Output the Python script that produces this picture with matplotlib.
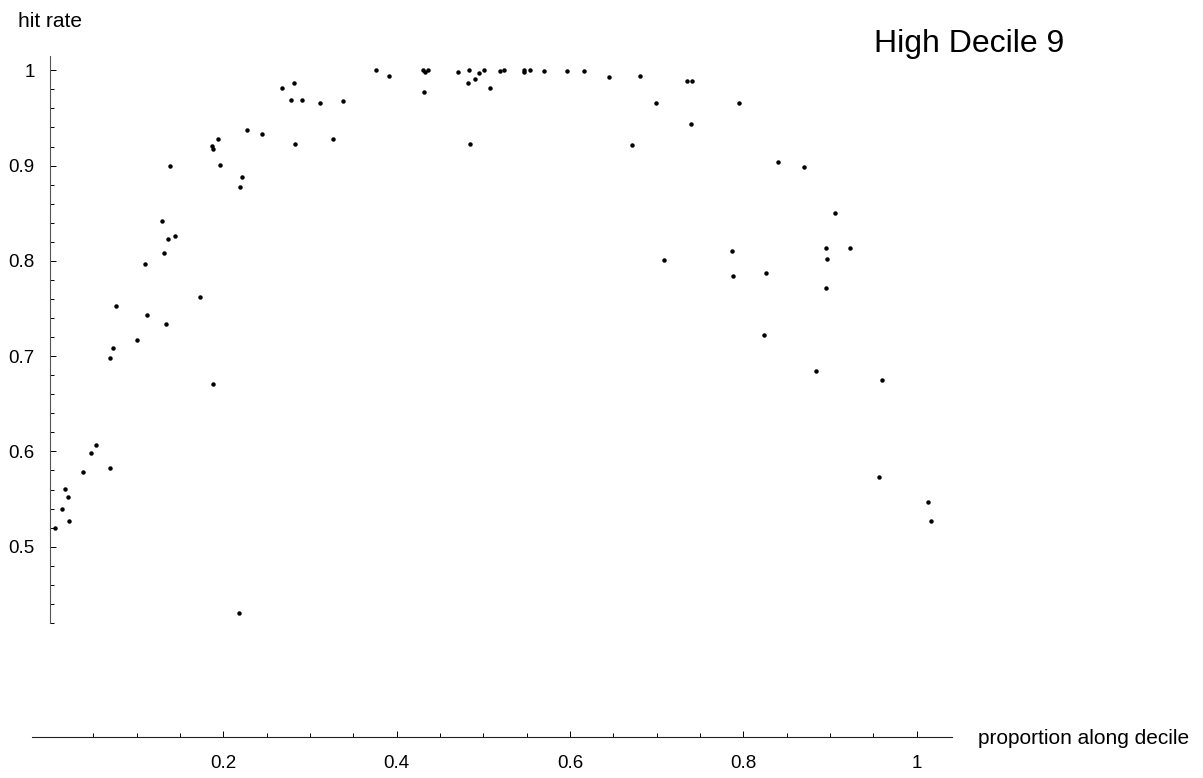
import numpy as np
import matplotlib
matplotlib.use('Agg')
import matplotlib.pyplot as plt

plt.rcParams['font.family'] = ['Liberation Sans', 'DejaVu Sans']

# points (proportion along decile, hit rate)
prop = [0.0054, 0.0135, 0.0173, 0.0208, 0.0223, 0.0377, 0.0470, 0.0535, 0.0689, 0.0696,
        0.0727, 0.0762, 0.1007, 0.1096, 0.1120, 0.1296, 0.1310, 0.1340, 0.1360, 0.1380,
        0.1440, 0.1734, 0.1866, 0.1880, 0.1884, 0.1940, 0.1965, 0.2184, 0.2190, 0.2210,
        0.2277, 0.2446, 0.2680, 0.2780, 0.2815, 0.2827, 0.2910, 0.3110, 0.3270, 0.3385,
        0.3760, 0.3915, 0.4300, 0.4310, 0.4330, 0.4360, 0.4710, 0.4820, 0.4830, 0.4846,
        0.4907, 0.4950, 0.5010, 0.5073, 0.5196, 0.5238, 0.5473, 0.5473, 0.5538, 0.5704,
        0.5965, 0.6165, 0.6446, 0.6719, 0.6807, 0.6992, 0.7084, 0.7350, 0.7392, 0.7410,
        0.7865, 0.7884, 0.7953, 0.8238, 0.8258, 0.8403, 0.8700, 0.8838, 0.8953, 0.8957,
        0.8969, 0.9061, 0.9227, 0.9569, 0.9603, 1.0134, 1.0165]
hit = [0.520, 0.540, 0.561, 0.552, 0.527, 0.578, 0.598, 0.607, 0.583, 0.698,
       0.709, 0.753, 0.717, 0.797, 0.743, 0.842, 0.808, 0.734, 0.823, 0.900,
       0.826, 0.762, 0.921, 0.917, 0.671, 0.928, 0.901, 0.430, 0.877, 0.888,
       0.937, 0.933, 0.981, 0.969, 0.987, 0.923, 0.969, 0.966, 0.928, 0.968,
       1.000, 0.994, 1.000, 0.977, 0.998, 1.000, 0.998, 0.987, 1.000, 0.923,
       0.991, 0.997, 1.000, 0.981, 0.999, 1.000, 1.000, 0.998, 1.000, 0.999,
       0.999, 0.999, 0.993, 0.922, 0.994, 0.966, 0.801, 0.989, 0.944, 0.989,
       0.810, 0.784, 0.966, 0.722, 0.787, 0.904, 0.898, 0.684, 0.814, 0.772,
       0.802, 0.850, 0.814, 0.573, 0.675, 0.547, 0.527]

x_ticks = [0.2, 0.4, 0.6, 0.8, 1.0]
x_labels = ['0.2', '0.4', '0.6', '0.8', '1']
y_ticks = [0.5, 0.6, 0.7, 0.8, 0.9, 1.0]
y_labels = ['0.5', '0.6', '0.7', '0.8', '0.9', '1']

W, H = 1203, 778
fig = plt.figure(figsize=(W / 100, H / 100), dpi=100)
ax = fig.add_axes([31.7 / W, (H - 737.3) / H, 920.6 / W, 681.3 / H])

ax.plot(prop, hit, 'o', color='black', ms=3.2, mec='none', clip_on=False)

ax.set_xlim(-0.0211, 1.0411)
ax.set_ylim(0.3, 1.015)

for s in ['top', 'right']:
    ax.spines[s].set_visible(False)
ax.spines['left'].set_position(('data', 0))
ax.spines['left'].set_bounds(0.42, 1.015)
ax.spines['left'].set_color('#555555')
ax.spines['bottom'].set_color('#222222')
ax.spines['left'].set_linewidth(0.8)
ax.spines['bottom'].set_linewidth(0.8)

ax.set_xticks(x_ticks)
ax.set_xticklabels(x_labels)
ax.set_xticks(np.arange(0.05, 1.0, 0.05)[[i for i in range(19) if (i + 1) % 4 != 0]], minor=True)
ax.set_yticks(y_ticks)
ax.set_yticklabels(y_labels)
ax.set_yticks([v for v in np.arange(0.42, 0.99, 0.02) if abs(v * 10 - round(v * 10)) > 1e-6], minor=True)

ax.tick_params(which='both', direction='in', color='black', width=0.7, labelsize=13.5)
ax.tick_params(which='major', length=4.4)
ax.tick_params(which='minor', length=2.8)
ax.tick_params(axis='y', pad=11)
ax.tick_params(axis='x', pad=13)

fig.text(50 / W, (H - 27.3) / H, 'hit rate', ha='center', va='baseline', fontsize=15)
fig.text(978.5 / W, (H - 743.8) / H, 'proportion along decile', ha='left', va='baseline', fontsize=15)
fig.text(873.5 / W, (H - 52.3) / H, 'High Decile 9', ha='left', va='baseline', fontsize=23)

fig.savefig('out.png', dpi=100)
